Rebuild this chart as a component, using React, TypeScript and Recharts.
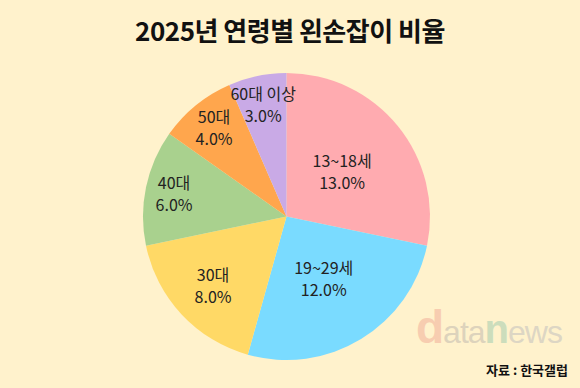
import { PieChart, Pie, Cell } from 'recharts'

const ageGroups = ['13~18세', '19~29세', '30대', '40대', '50대', '60대 이상']
const leftHandedShare = [13.0, 12.0, 8.0, 6.0, 4.0, 3.0]
const sliceColors = ['#FFABB0', '#7ADBFF', '#FFD966', '#A9D18E', '#FFA64D', '#C9AAE6']

const data = ageGroups.map((name, i) => ({ name, value: leftHandedShare[i] }))

const RAD = Math.PI / 180
const KR_FONT = '"Noto Sans CJK KR", "Noto Sans", sans-serif'

// big slices get the label nearer the centre, small ones nearer the rim
function renderLabel(props: any) {
  const { cx, cy, midAngle, outerRadius, value, name } = props
  const k = Math.min(0.8, Math.max(0.5, 1.1 - 0.05 * value))
  const r = outerRadius * k
  const x = cx + r * Math.cos(-midAngle * RAD)
  const y = cy + r * Math.sin(-midAngle * RAD)
  return (
    <text
      x={x}
      y={y}
      textAnchor="middle"
      fill="#222"
      fontSize={16}
      fontFamily={KR_FONT}
    >
      <tspan x={x} dy={-4}>{name}</tspan>
      <tspan x={x} dy={22}>{value.toFixed(1)}%</tspan>
    </text>
  )
}

export default function App() {
  return (
    <div
      style={{
        position: 'fixed',
        left: 0,
        top: 0,
        width: 580,
        height: 388,
        background: '#FFF2CC',
        fontFamily: KR_FONT,
        overflow: 'hidden',
      }}
    >
      <div
        style={{
          position: 'absolute',
          top: 11,
          width: 580,
          textAlign: 'center',
          fontSize: 26,
          fontWeight: 700,
          color: '#111',
          letterSpacing: -0.5,
        }}
      >
        2025년 연령별 왼손잡이 비율
      </div>
      <div
        style={{
          position: 'absolute',
          left: 416,
          top: 300,
          fontFamily: 'Arial, "Liberation Sans", sans-serif',
          fontSize: 32,
          letterSpacing: -1,
          whiteSpace: 'nowrap',
        }}
      >
        <span style={{ color: '#F7CDB0', fontSize: 46, fontWeight: 700 }}>d</span>
        <span style={{ color: '#DDD3BC' }}>ata</span>
        <span style={{ color: '#CCDDBC', fontSize: 40, fontWeight: 700 }}>n</span>
        <span style={{ color: '#DDD6C4' }}>ews</span>
      </div>
      <div
        style={{
          position: 'absolute',
          right: 12,
          top: 360,
          fontSize: 13,
          fontWeight: 700,
          color: '#111',
        }}
      >
        자료 : 한국갤럽
      </div>
      <PieChart
        width={580}
        height={388}
        margin={{ top: 0, right: 0, bottom: 0, left: 0 }}
        style={{ position: 'absolute', left: 0, top: 0 }}
      >
        <Pie
          data={data}
          dataKey="value"
          nameKey="name"
          cx={286.5}
          cy={216.5}
          outerRadius={143.5}
          startAngle={90}
          endAngle={-270}
          stroke="none"
          labelLine={false}
          label={renderLabel}
          isAnimationActive={false}
        >
          {data.map((d, i) => (
            <Cell key={d.name} fill={sliceColors[i]} />
          ))}
        </Pie>
      </PieChart>
    </div>
  )
}
